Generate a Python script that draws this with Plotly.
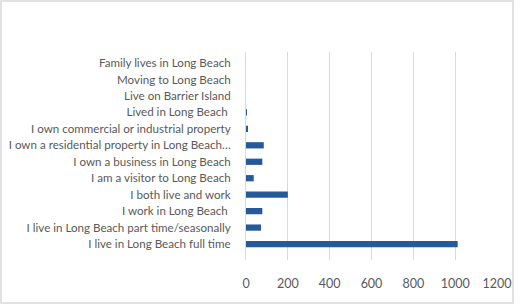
import plotly.graph_objects as go

categories = [
    "I live in Long Beach full time",
    "I live in Long Beach part time/seasonally",
    "I work in Long Beach ",
    "I both live and work",
    "I am a visitor to Long Beach",
    "I own a business in Long Beach",
    "I own a residential property in Long Beach…",
    "I own commercial or industrial property",
    "Lived in Long Beach ",
    "Live on Barrier Island",
    "Moving to Long Beach",
    "Family lives in Long Beach",
]
values = [1012, 72, 78, 200, 37, 78, 85, 8, 2, 0, 0, 0]
x_ticks = [0, 200, 400, 600, 800, 1000, 1200]

fig = go.Figure(go.Bar(
    x=values, y=categories, orientation="h",
    marker=dict(color="#25599a", line=dict(width=0)),
    width=0.38,
))

font = dict(family="Lato, Open Sans, sans-serif", size=11.6, color="#595959")
xfont = dict(family="Lato, Open Sans, sans-serif", size=12.5, color="#595959")
fig.update_layout(
    width=527, height=304,
    margin=dict(l=246, r=30, t=52, b=44, autoexpand=False),
    paper_bgcolor="white", plot_bgcolor="white",
    font=font, showlegend=False,
)
fig.add_shape(type="rect", xref="paper", yref="paper",
              x0=-246/251 + 1/251, x1=1 + 16/251,
              y0=-43/208, y1=1 + 51/208,
              line=dict(color="#d9d9d9", width=1.5), layer="below")
fig.update_xaxes(range=[0, 1200], tickvals=x_ticks, showgrid=True,
                 gridcolor="#d9d9d9", gridwidth=1, zeroline=False,
                 showline=False, ticks="", ticklabelstandoff=14,
                 tickfont=xfont, automargin=False)
fig.update_yaxes(range=[-0.97, 11.67], showgrid=False, zeroline=False,
                 showline=True, linecolor="#d9d9d9", linewidth=1,
                 ticks="", ticklabelstandoff=12, tickfont=font, automargin=False)
fig.write_html("out.html")
